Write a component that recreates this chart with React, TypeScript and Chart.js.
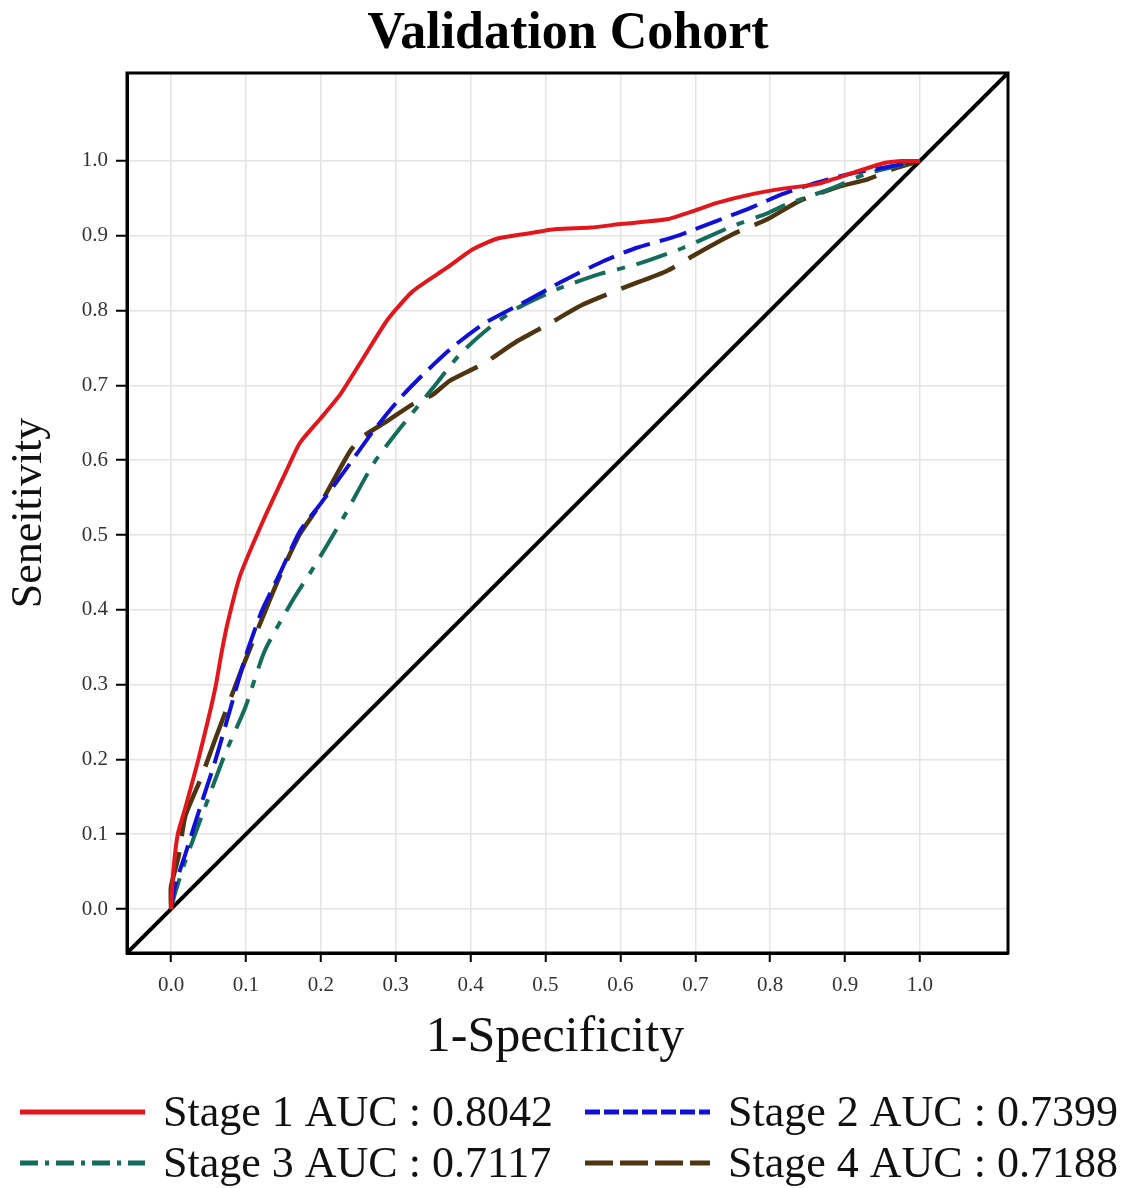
import { useEffect, useRef } from "react";
import { Chart, registerables } from "chart.js";

Chart.register(...registerables);

const TITLE = "Validation Cohort";
const X_TITLE = "1-Specificity";
const Y_TITLE = "Seneitivity";
const TICK_VALUES = [0, 0.1, 0.2, 0.3, 0.4, 0.5, 0.6, 0.7, 0.8, 0.9, 1.0];
const AXIS_MIN = -0.0588;
const AXIS_MAX = 1.1176;

const STAGE_LABELS = [
  "Stage 1 AUC : 0.8042",
  "Stage 2 AUC : 0.7399",
  "Stage 3 AUC : 0.7117",
  "Stage 4 AUC : 0.7188",
];

const S1_X = [0, 0.003, 0.009, 0.019, 0.036, 0.05, 0.06, 0.067, 0.075, 0.092, 0.123, 0.156, 0.172, 0.199, 0.226, 0.257, 0.29, 0.323, 0.368, 0.403, 0.435, 0.47, 0.515, 0.56, 0.603, 0.662, 0.7, 0.729, 0.773, 0.817, 0.862, 0.907, 0.951, 0.975, 1.0];
const S1_Y = [0, 0.05, 0.1, 0.135, 0.198, 0.255, 0.3, 0.34, 0.38, 0.445, 0.519, 0.59, 0.623, 0.655, 0.688, 0.737, 0.789, 0.826, 0.857, 0.882, 0.896, 0.902, 0.909, 0.911, 0.916, 0.922, 0.934, 0.944, 0.955, 0.963, 0.969, 0.983, 0.997, 1.0, 1.0];

const S2_X = [0, 0.005, 0.019, 0.036, 0.059, 0.081, 0.099, 0.121, 0.146, 0.172, 0.199, 0.235, 0.27, 0.306, 0.337, 0.377, 0.417, 0.475, 0.524, 0.577, 0.622, 0.676, 0.729, 0.773, 0.817, 0.862, 0.907, 0.951, 1.0];
const S2_Y = [0, 0.03, 0.073, 0.127, 0.198, 0.274, 0.336, 0.398, 0.45, 0.505, 0.541, 0.59, 0.639, 0.683, 0.715, 0.752, 0.782, 0.813, 0.84, 0.866, 0.884, 0.9, 0.92, 0.937, 0.956, 0.971, 0.983, 0.991, 1.0];

const S3_X = [0, 0.005, 0.019, 0.045, 0.072, 0.099, 0.125, 0.162, 0.19, 0.23, 0.27, 0.306, 0.35, 0.386, 0.425, 0.462, 0.519, 0.573, 0.622, 0.684, 0.75, 0.796, 0.822, 0.884, 0.929, 1.0];
const S3_Y = [0, 0.02, 0.064, 0.135, 0.207, 0.269, 0.345, 0.412, 0.456, 0.523, 0.595, 0.643, 0.697, 0.742, 0.777, 0.803, 0.83, 0.849, 0.862, 0.884, 0.913, 0.93, 0.942, 0.964, 0.983, 1.0];

const S4_X = [0, 0, 0.01, 0.019, 0.04, 0.059, 0.095, 0.135, 0.152, 0.172, 0.199, 0.239, 0.257, 0.288, 0.323, 0.35, 0.372, 0.417, 0.462, 0.506, 0.55, 0.603, 0.662, 0.702, 0.75, 0.796, 0.84, 0.893, 0.929, 0.964, 1.0];
const S4_Y = [0, 0.03, 0.07, 0.124, 0.175, 0.227, 0.322, 0.421, 0.46, 0.501, 0.541, 0.612, 0.632, 0.652, 0.675, 0.688, 0.706, 0.729, 0.759, 0.783, 0.808, 0.83, 0.853, 0.876, 0.902, 0.922, 0.947, 0.966, 0.975, 0.989, 1.0];

const COLORS = ["#e3161b", "#1010d8", "#146c5c", "#4f3410"];
const DASHES: number[][] = [[], [28, 10], [32, 12, 8, 12], [58, 16]];
const LEGEND_DASHES: number[][] = [[], [15, 4], [18, 7, 4, 7], [28, 7]];

const SERIF = '"Liberation Serif", "Times New Roman", serif';

const toPoints = (xs: number[], ys: number[]) => xs.map((x, i) => ({ x, y: ys[i] }));

const framePlugin = {
  id: "frame",
  afterDraw(chart: any) {
    const { ctx, chartArea } = chart;
    ctx.save();
    ctx.strokeStyle = "#000";
    ctx.lineWidth = 3;
    ctx.strokeRect(chartArea.left, chartArea.top, chartArea.right - chartArea.left, chartArea.bottom - chartArea.top);
    ctx.restore();
  },
};

const legendPlugin = {
  id: "customLegend",
  afterDraw(chart: any) {
    const { ctx } = chart;
    const cols = [20, 585];
    const rows = [1112, 1163];
    ctx.save();
    for (let i = 0; i < 4; i++) {
      const ds = chart.data.datasets[i];
      const x = cols[i % 2];
      const y = rows[Math.floor(i / 2)];
      ctx.beginPath();
      ctx.setLineDash(LEGEND_DASHES[i]);
      ctx.strokeStyle = ds.borderColor;
      ctx.lineWidth = 5;
      ctx.moveTo(x, y);
      ctx.lineTo(x + 125, y);
      ctx.stroke();
      ctx.setLineDash([]);
      ctx.fillStyle = "#111";
      ctx.font = `44px ${SERIF}`;
      ctx.textBaseline = "alphabetic";
      ctx.textAlign = "left";
      ctx.fillText(ds.label, x + 143, y + 14);
    }
    ctx.restore();
  },
};

export default function App() {
  const ref = useRef<HTMLCanvasElement | null>(null);
  useEffect(() => {
    if (!ref.current) return;
    const datasets: any[] = [
      toPoints(S1_X, S1_Y),
      toPoints(S2_X, S2_Y),
      toPoints(S3_X, S3_Y),
      toPoints(S4_X, S4_Y),
    ].map((data, i) => ({
      label: STAGE_LABELS[i],
      data,
      borderColor: COLORS[i],
      backgroundColor: COLORS[i],
      borderWidth: i === 3 ? 4.5 : 4,
      borderDash: DASHES[i],
      pointRadius: 0,
      fill: false,
      tension: 0.2,
    }));
    datasets.push({
      label: "Reference",
      data: [
        { x: AXIS_MIN, y: AXIS_MIN },
        { x: AXIS_MAX, y: AXIS_MAX },
      ],
      borderColor: "#000",
      borderWidth: 4,
      pointRadius: 0,
      fill: false,
    });

    const tickCfg = (scale: any) => {
      scale.ticks = TICK_VALUES.map((v) => ({ value: v }));
    };

    const chart = new Chart(ref.current, {
      type: "line",
      data: { datasets },
      options: {
        animation: false,
        responsive: false,
        maintainAspectRatio: false,
        layout: { padding: 0 },
        plugins: {
          legend: { display: false },
          tooltip: { enabled: false },
          title: {
            display: true,
            text: TITLE,
            color: "#000",
            font: { family: SERIF, size: 52, weight: "bold" },
            padding: { top: 3, bottom: 7.6 },
          },
        },
        scales: {
          x: {
            type: "linear",
            min: AXIS_MIN,
            max: AXIS_MAX,
            afterBuildTicks: tickCfg,
            afterFit: (s: any) => {
              s.height = 235;
            },
            ticks: {
              autoSkip: false,
              maxRotation: 0,
              padding: 11,
              color: "#333",
              font: { family: SERIF, size: 21 },
              callback: (v: any) => Number(v).toFixed(1),
            },
            grid: {
              color: "#e4e4e4",
              lineWidth: 1.5,
              tickColor: "#000",
              tickLength: 9,
              tickWidth: 2,
            },
            border: { color: "#000", width: 3 },
            title: {
              display: true,
              text: X_TITLE + "\u00a0\u00a0",
              color: "#111",
              font: { family: SERIF, size: 50 },
              padding: { top: 0, bottom: 120 },
            },
          },
          y: {
            type: "linear",
            min: AXIS_MIN,
            max: AXIS_MAX,
            afterBuildTicks: tickCfg,
            afterFit: (s: any) => {
              s.width = 127;
            },
            ticks: {
              autoSkip: false,
              padding: 8,
              color: "#333",
              font: { family: SERIF, size: 21 },
              callback: (v: any) => Number(v).toFixed(1),
            },
            grid: {
              color: "#e4e4e4",
              lineWidth: 1.5,
              tickColor: "#000",
              tickLength: 11,
              tickWidth: 2,
            },
            border: { color: "#000", width: 3 },
            title: {
              display: true,
              text: Y_TITLE,
              color: "#111",
              font: { family: SERIF, size: 44 },
              padding: { top: 3, bottom: 0 },
            },
          },
          yRight: {
            type: "linear",
            position: "right",
            min: AXIS_MIN,
            max: AXIS_MAX,
            afterFit: (s: any) => {
              s.width = 128;
            },
            ticks: { display: false },
            grid: { display: false, drawOnChartArea: false },
            border: { display: false },
          },
        },
      } as any,
      plugins: [framePlugin, legendPlugin],
    });
    return () => chart.destroy();
  }, []);

  return (
    <div style={{ position: "fixed", left: 0, top: 0, width: 1136, height: 1188, background: "#fff" }}>
      <canvas ref={ref} width={1136} height={1188} style={{ display: "block" }} />
    </div>
  );
}
